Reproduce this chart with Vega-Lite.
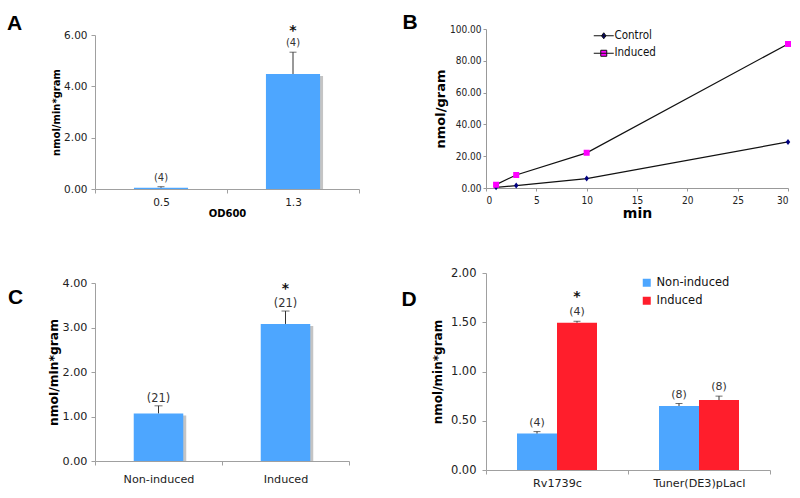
{
  "$schema": "https://vega.github.io/schema/vega-lite/v6.json",
  "background": "white",
  "padding": {"left": 7, "top": 12, "right": 5, "bottom": 5},
  "config": {
    "view": {"stroke": null},
    "axis": {"grid": false, "domainColor": "#a0a0a0", "tickColor": "#a0a0a0", "tickSize": 4, "labelColor": "#222", "titleColor": "#000", "labelFont": "DejaVu Sans", "titleFont": "DejaVu Sans", "titleFontWeight": "bold"},
    "title": {"font": "Liberation Sans", "fontSize": 21, "fontWeight": "bold", "color": "#000", "anchor": "start", "frame": "group"}
  },
  "spacing": 41,
  "hconcat": [
    {
      "spacing": 58,
      "vconcat": [
        {
          "width": 264, "height": 160,
          "title": {"text": "A", "dx": -88, "offset": -10},
          "data": {"values": [
            {"od": "0.5", "v": 0.05, "err": 0.09, "n": "(4)", "star": ""},
            {"od": "1.3", "v": 4.48, "err": 5.33, "n": "(4)", "star": "*"}
          ]},
          "encoding": {"x": {"field": "od", "type": "nominal", "sort": null, "scale": {"paddingInner": 0, "paddingOuter": 0}, "axis": {"title": "OD600", "labelAngle": 0, "tickBand": "extent", "labelFontSize": 10.5, "titleFontSize": 10, "labelPadding": 4, "titlePadding": 1}}},
          "layer": [
            {"mark": {"type": "bar", "color": "#c4c4c4", "width": {"band": 0.41}, "xOffset": 3, "yOffset": 2, "clip": true},
             "encoding": {"y": {"field": "v", "type": "quantitative", "scale": {"domain": [0, 6], "nice": false, "range": [160, 6]}, "axis": {"values": [0, 1, 2, 3, 4, 5, 6], "format": ".2f", "title": "nmol/min*gram", "labelFontSize": 10.5, "titleFontSize": 10, "labelPadding": 4, "titlePadding": 2}}}},
            {"mark": {"type": "bar", "color": "#4da6ff", "width": {"band": 0.41}}, "encoding": {"y": {"field": "v", "type": "quantitative"}}},
            {"mark": {"type": "rule", "color": "#333"}, "encoding": {"y": {"field": "v", "type": "quantitative"}, "y2": {"field": "err"}}},
            {"mark": {"type": "tick", "orient": "horizontal", "size": 7, "thickness": 1, "color": "#333"}, "encoding": {"y": {"field": "err", "type": "quantitative"}}},
            {"mark": {"type": "text", "baseline": "alphabetic", "dy": -6, "font": "DejaVu Sans", "fontSize": 10, "color": "#333"}, "encoding": {"y": {"field": "err", "type": "quantitative"}, "text": {"field": "n"}}},
            {"mark": {"type": "text", "baseline": "alphabetic", "dy": -17, "font": "DejaVu Sans", "fontSize": 14, "fontWeight": "bold", "color": "#111"}, "encoding": {"y": {"field": "err", "type": "quantitative"}, "text": {"field": "star"}}}
          ]
        },
        {
          "width": 254, "height": 178,
          "title": {"text": "C", "dx": -87, "dy": 31, "offset": 0},
          "data": {"values": [
            {"g": "Non-induced", "v": 1.07, "err": 1.24, "n": "(21)", "star": ""},
            {"g": "Induced", "v": 3.08, "err": 3.37, "n": "(21)", "star": "*"}
          ]},
          "encoding": {"x": {"field": "g", "type": "nominal", "sort": null, "scale": {"paddingInner": 0, "paddingOuter": 0}, "axis": {"title": null, "labelAngle": 0, "tickBand": "extent", "labelFontSize": 11.2, "labelPadding": 8}}},
          "layer": [
            {"mark": {"type": "bar", "color": "#c4c4c4", "width": {"band": 0.39}, "xOffset": 3, "yOffset": 2, "clip": true},
             "encoding": {"y": {"field": "v", "type": "quantitative", "scale": {"domain": [0, 4], "nice": false}, "axis": {"values": [0, 1, 2, 3, 4], "format": ".2f", "title": "nmol/min*gram", "labelFontSize": 11.2, "titleFontSize": 12.3, "labelPadding": 4, "titlePadding": 2}}}},
            {"mark": {"type": "bar", "color": "#4da6ff", "width": {"band": 0.39}}, "encoding": {"y": {"field": "v", "type": "quantitative"}}},
            {"mark": {"type": "rule", "color": "#333"}, "encoding": {"y": {"field": "v", "type": "quantitative"}, "y2": {"field": "err"}}},
            {"mark": {"type": "tick", "orient": "horizontal", "size": 8, "thickness": 1, "color": "#333"}, "encoding": {"y": {"field": "err", "type": "quantitative"}}},
            {"mark": {"type": "text", "baseline": "alphabetic", "dy": -4, "font": "DejaVu Sans", "fontSize": 11.4, "color": "#333"}, "encoding": {"y": {"field": "err", "type": "quantitative"}, "text": {"field": "n"}}},
            {"mark": {"type": "text", "baseline": "alphabetic", "dy": -18, "font": "DejaVu Sans", "fontSize": 14, "fontWeight": "bold", "color": "#111"}, "encoding": {"y": {"field": "err", "type": "quantitative"}, "text": {"field": "star"}}}
          ]
        }
      ]
    },
    {
      "spacing": 47,
      "resolve": {"scale": {"color": "independent", "shape": "independent"}, "legend": {"color": "independent"}},
      "vconcat": [
        {
          "width": 302, "height": 159,
          "title": {"text": "B", "dx": -83.5, "offset": -9},
          "data": {"values": [
            {"t": 1, "s": "Control", "v": 0.4},
            {"t": 3, "s": "Control", "v": 1.5},
            {"t": 10, "s": "Control", "v": 5.9},
            {"t": 30, "s": "Control", "v": 29.0},
            {"t": 1, "s": "Induced", "v": 2.1},
            {"t": 3, "s": "Induced", "v": 8.2},
            {"t": 10, "s": "Induced", "v": 22.1},
            {"t": 30, "s": "Induced", "v": 90.6}
          ]},
          "encoding": {
            "x": {"field": "t", "type": "quantitative", "scale": {"domain": [0, 30], "nice": false}, "axis": {"values": [0, 5, 10, 15, 20, 25, 30], "title": "min", "labelFont": "Liberation Sans Narrow, DejaVu Sans Condensed, Liberation Sans", "labelFontSize": 10, "titleFontSize": 14, "tickSize": 3, "labelPadding": 4, "titlePadding": 1, "domainColor": "#999", "tickColor": "#999"}},
            "y": {"field": "v", "type": "quantitative", "scale": {"domain": [0, 100], "nice": false}, "axis": {"values": [0, 20, 40, 60, 80, 100], "format": ".2f", "title": "nmol/gram", "labelFont": "Liberation Sans Narrow, DejaVu Sans Condensed, Liberation Sans", "labelFontSize": 10, "titleFontSize": 13, "tickSize": 3, "labelPadding": 2, "titlePadding": 2, "domainColor": "#999", "tickColor": "#999"}}
          },
          "layer": [
            {"mark": {"type": "line", "color": "#111", "strokeWidth": 1.2}, "encoding": {"detail": {"field": "s", "type": "nominal"}}},
            {"mark": {"type": "point", "filled": true, "opacity": 1, "size": 100, "strokeWidth": 0},
             "encoding": {
               "shape": {"field": "s", "type": "nominal", "scale": {"domain": ["Control", "Induced"], "range": ["M-2,0H2M0,-0.6L0.45,0L0,0.6L-0.45,0Z", "M-2,0H2M-0.6,-0.6H0.6V0.6H-0.6Z"]}},
               "color": {"field": "s", "type": "nominal", "scale": {"domain": ["Control", "Induced"], "range": ["#000080", "#ff00ff"]},
                 "legend": {"orient": "none", "legendX": 112, "legendY": 1, "title": null, "padding": 0, "labelFont": "Liberation Sans Narrow, DejaVu Sans Condensed, Liberation Sans", "labelFontSize": 11.5, "labelColor": "#111", "symbolSize": 100, "rowPadding": 4.5, "labelOffset": 5, "symbolStrokeColor": "#111", "symbolStrokeWidth": 1,
                   "encode": {"symbols": {"stroke": {"value": "#111"}, "strokeWidth": {"value": 1}}}}}
             }}
          ]
        },
        {
          "width": 284, "height": 197,
          "title": {"text": "D", "dx": -84.5, "dy": 43, "offset": 0},
          "data": {"values": [
            {"strain": "Rv1739c", "cond": "Non-induced", "v": 0.37, "err": 0.39, "n": "(4)", "star": ""},
            {"strain": "Rv1739c", "cond": "Induced", "v": 1.495, "err": 1.51, "n": "(4)", "star": "*"},
            {"strain": "Tuner(DE3)pLacI", "cond": "Non-induced", "v": 0.65, "err": 0.675, "n": "(8)", "star": ""},
            {"strain": "Tuner(DE3)pLacI", "cond": "Induced", "v": 0.71, "err": 0.75, "n": "(8)", "star": ""}
          ]},
          "encoding": {
            "x": {"field": "strain", "type": "nominal", "sort": null, "scale": {"paddingInner": 0, "paddingOuter": 0}, "axis": {"title": null, "labelAngle": 0, "tickBand": "extent", "labelFontSize": 11.2, "labelPadding": 3}},
            "xOffset": {"field": "cond", "type": "nominal", "sort": ["Non-induced", "Induced"], "scale": {"domain": ["Non-induced", "Induced"], "paddingInner": 0, "paddingOuter": 0.775}}
          },
          "layer": [
            {"mark": {"type": "bar", "color": "#c4c4c4", "xOffset": 3, "yOffset": 2, "clip": true},
             "encoding": {"y": {"field": "v", "type": "quantitative", "scale": {"domain": [0, 2], "nice": false}, "axis": {"values": [0, 0.5, 1, 1.5, 2], "format": ".2f", "title": "nmol/min*gram", "labelFontSize": 11.5, "titleFontSize": 12, "labelPadding": 6, "titlePadding": 6}}}},
            {"mark": {"type": "bar"}, "encoding": {"y": {"field": "v", "type": "quantitative"},
              "color": {"field": "cond", "type": "nominal", "scale": {"domain": ["Non-induced", "Induced"], "range": ["#4da6ff", "#ff1e2c"]},
                "legend": {"orient": "none", "legendX": 155, "legendY": 4, "title": null, "padding": 0, "symbolType": "square", "symbolSize": 64, "symbolStrokeWidth": 0, "labelFont": "DejaVu Sans", "labelFontSize": 11.5, "labelColor": "#111", "rowPadding": 5, "labelOffset": 4}}}},
            {"mark": {"type": "rule", "color": "#333"}, "encoding": {"y": {"field": "v", "type": "quantitative"}, "y2": {"field": "err"}}},
            {"mark": {"type": "tick", "orient": "horizontal", "size": 7, "thickness": 1, "color": "#333"}, "encoding": {"y": {"field": "err", "type": "quantitative"}}},
            {"mark": {"type": "text", "baseline": "alphabetic", "dy": -6, "font": "DejaVu Sans", "fontSize": 11, "color": "#333"}, "encoding": {"y": {"field": "err", "type": "quantitative"}, "text": {"field": "n"}}},
            {"mark": {"type": "text", "baseline": "alphabetic", "dy": -20, "font": "DejaVu Sans", "fontSize": 14, "fontWeight": "bold", "color": "#111"}, "encoding": {"y": {"field": "err", "type": "quantitative"}, "text": {"field": "star"}}}
          ]
        }
      ]
    }
  ]
}
